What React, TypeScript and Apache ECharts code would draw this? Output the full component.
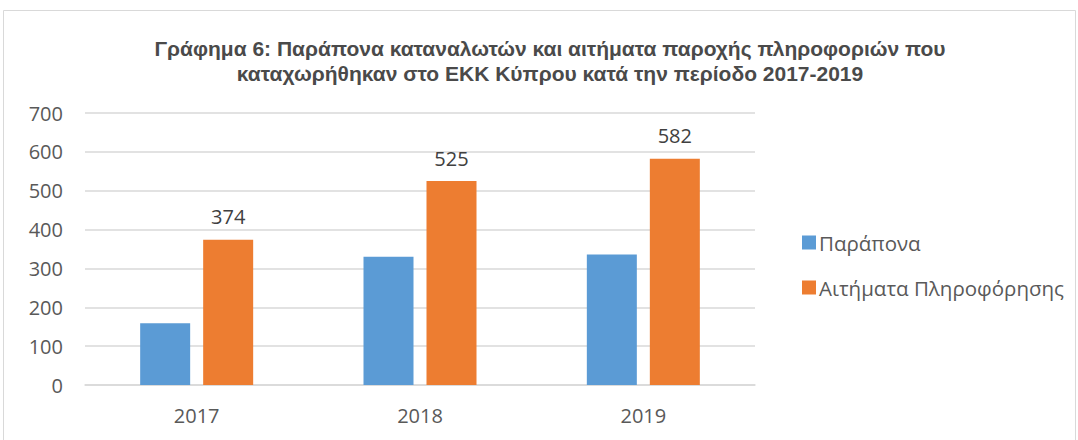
import React, { useEffect, useRef } from "react";
import * as echarts from "echarts";

const categories = ["2017", "2018", "2019"];
const complaints = [159, 330, 336];
const infoRequests = [374, 525, 582];
const seriesNames = ["Παράπονα", "Αιτήματα Πληροφόρησης"];
const titleLines = [
  "Γράφημα 6: Παράπονα καταναλωτών και αιτήματα παροχής πληροφοριών που",
  "καταχωρήθηκαν στο ΕΚΚ Κύπρου κατά την περίοδο 2017-2019",
];

export default function App() {
  const ref = useRef<HTMLDivElement>(null);
  useEffect(() => {
    if (!ref.current) return;
    const chart = echarts.init(ref.current, null, { renderer: "svg" });
    const font = "'Open Sans', 'Noto Sans', sans-serif";
    chart.setOption({
      animation: false,
      backgroundColor: "#ffffff",
      title: {
        text: titleLines.join("\n"),
        left: 545,
        top: 31,
        textAlign: "center",
        textStyle: {
          fontFamily: "'Liberation Sans', Arial, sans-serif",
          fontWeight: "bold",
          fontSize: 21,
          color: "#4a4a4a",
          lineHeight: 25,
        },
      },
      graphic: [
        {
          type: "rect",
          shape: { x: 3.5, y: 10.5, width: 1072, height: 440 },
          style: { fill: "none", stroke: "#d9d9d9", lineWidth: 1 },
          silent: true,
        },
      ],
      legend: {
        orient: "vertical",
        left: 797,
        top: 227,
        itemWidth: 14,
        itemHeight: 14,
        itemGap: 24,
        icon: "rect",
        textStyle: { fontFamily: font, fontSize: 20.5, color: "#595959", padding: [0, 0, 0, -2] },
        data: seriesNames,
      },
      grid: { left: 85, right: 1078 - 755, top: 113, bottom: 440 - 385 },
      xAxis: {
        type: "category",
        data: categories,
        axisTick: { show: false },
        axisLine: { show: true, lineStyle: { color: "#d9d9d9", width: 1.5 } },
        axisLabel: { fontFamily: font, fontSize: 20, color: "#595959", margin: 20 },
      },
      yAxis: {
        type: "value",
        min: 0,
        max: 700,
        interval: 100,
        axisLine: { show: false },
        axisTick: { show: false },
        splitLine: { lineStyle: { color: "#d9d9d9", width: 1.5 } },
        axisLabel: { fontFamily: font, fontSize: 20, color: "#595959", margin: 22 },
      },
      series: [
        {
          name: seriesNames[0],
          type: "bar",
          data: complaints,
          barWidth: 50,
          barGap: "26%",
          itemStyle: { color: "#5b9bd5" },
        },
        {
          name: seriesNames[1],
          type: "bar",
          data: infoRequests,
          barWidth: 50,
          itemStyle: { color: "#ed7d31" },
          label: {
            show: true,
            position: "top",
            distance: 13,
            fontFamily: font,
            fontSize: 20,
            color: "#404040",
          },
        },
      ],
    });
    return () => chart.dispose();
  }, []);
  return (
    <div
      ref={ref}
      style={{ position: "fixed", left: 0, top: 0, width: 1078, height: 440 }}
    />
  );
}
